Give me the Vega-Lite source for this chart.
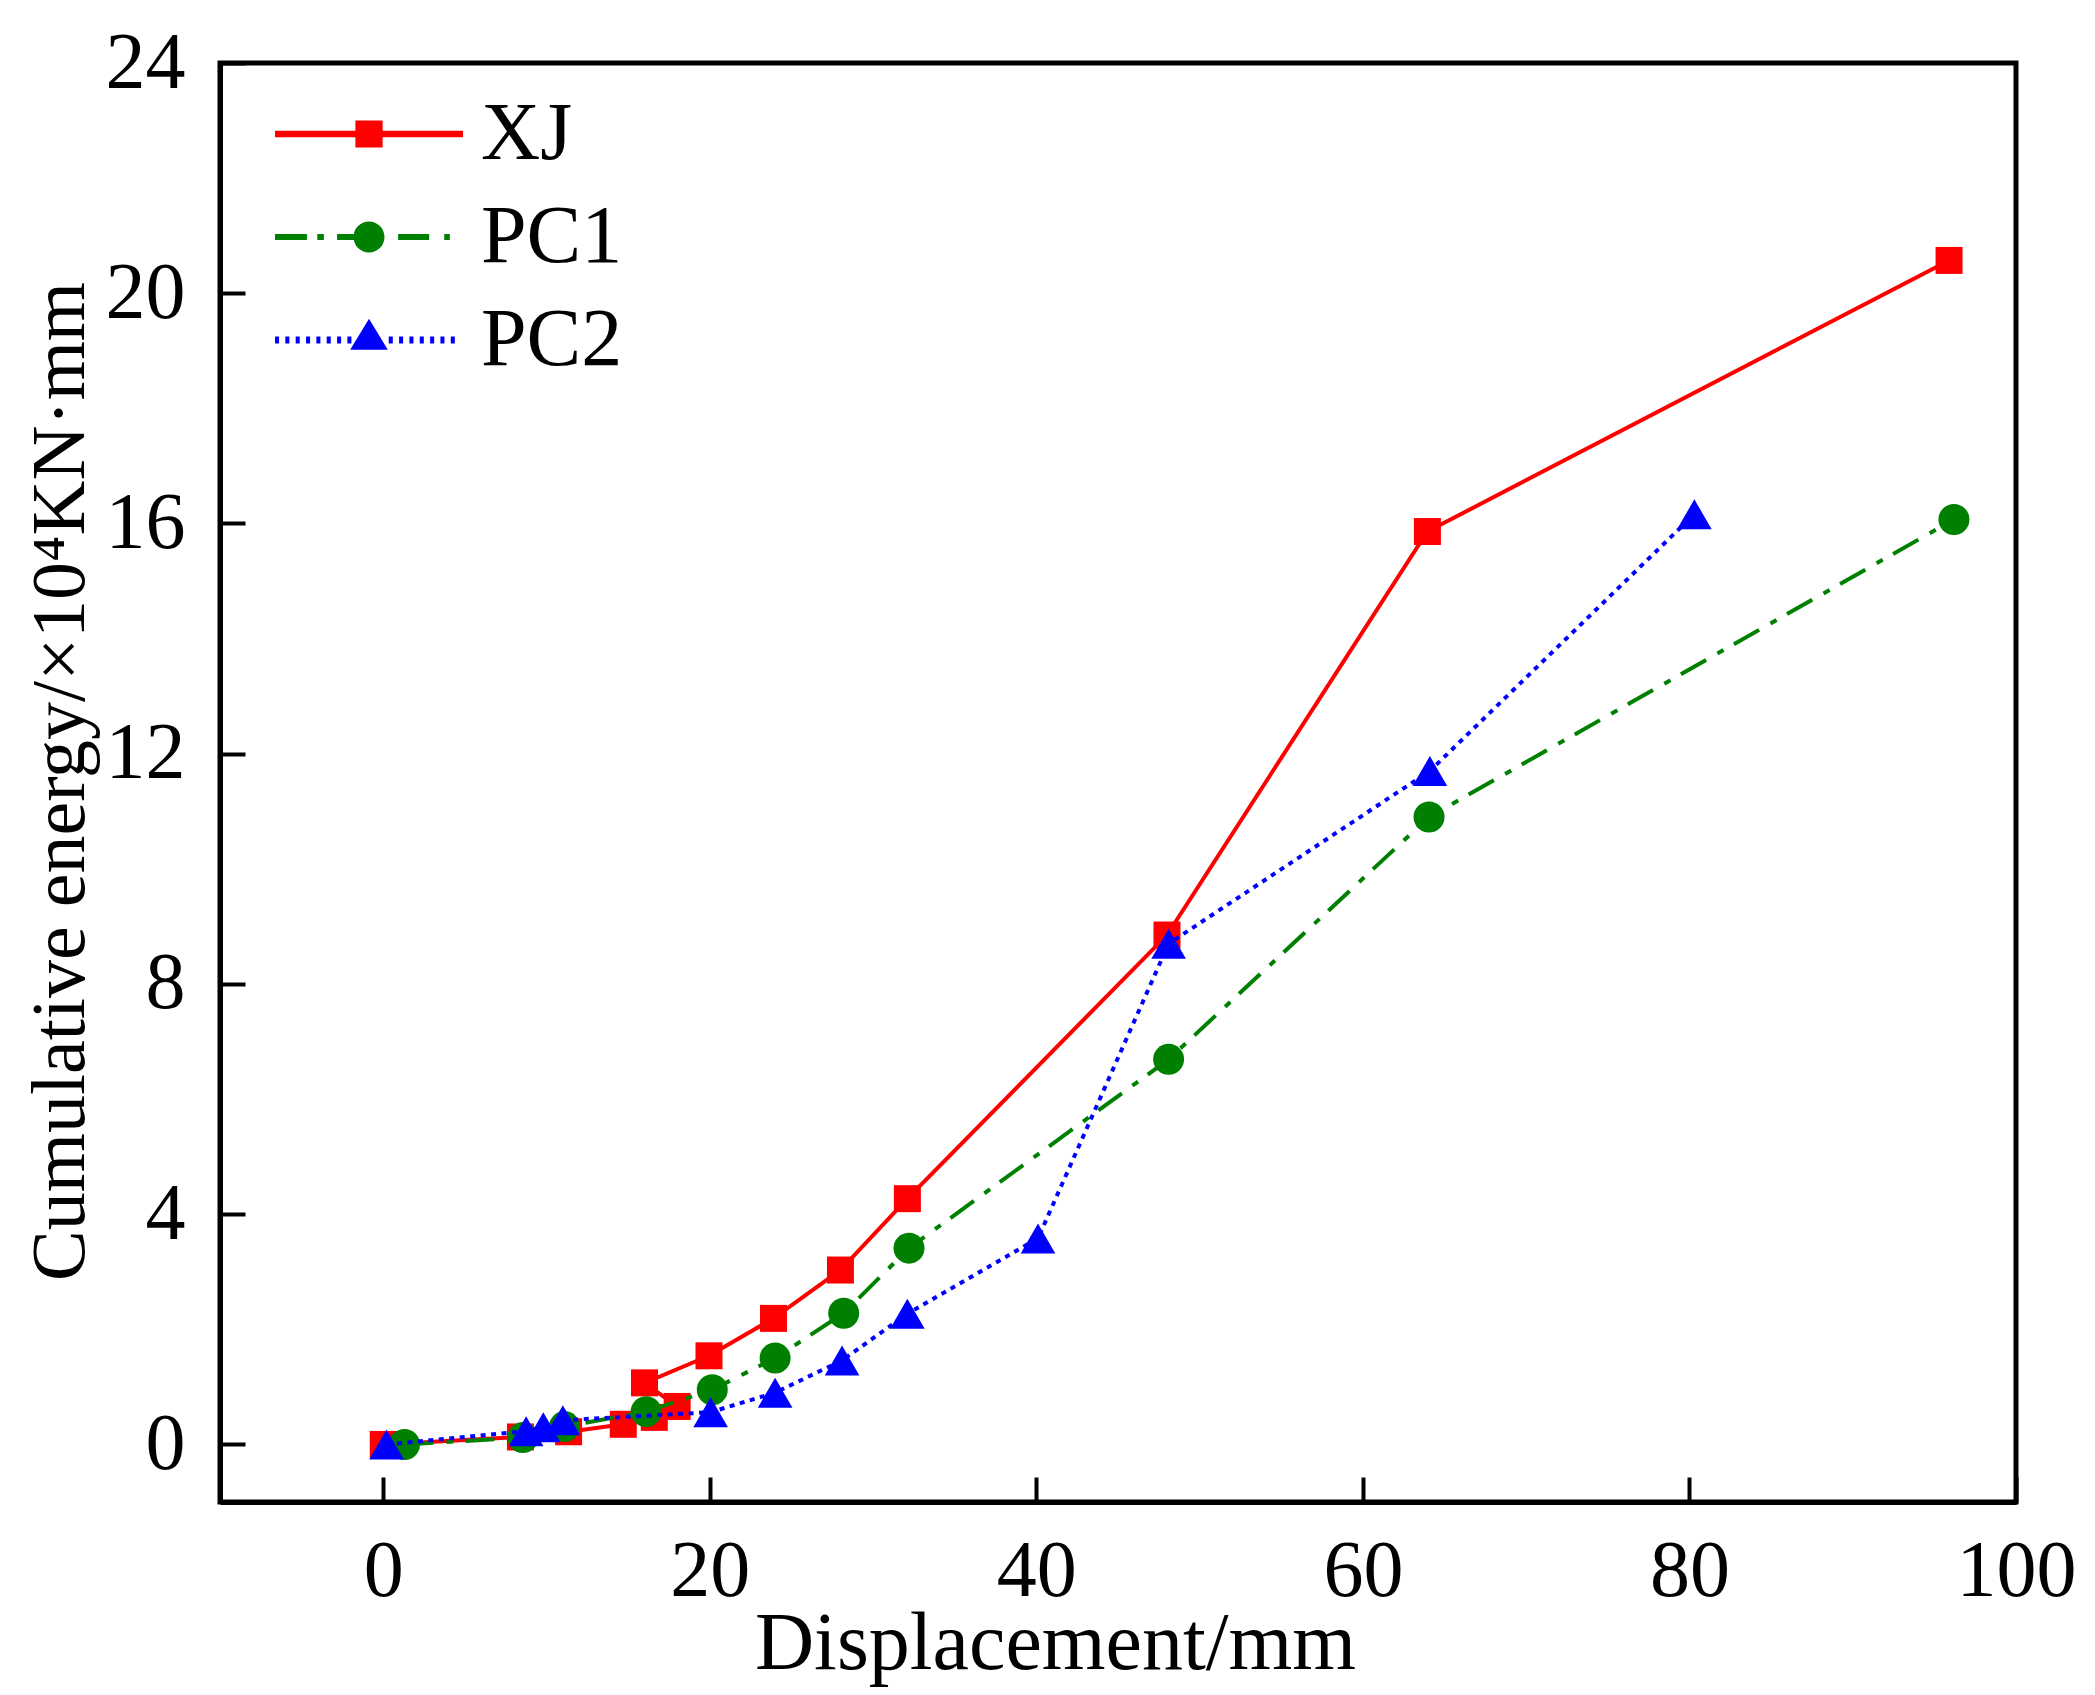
{
  "$schema": "https://vega.github.io/schema/vega-lite/v6.json",
  "autosize": {"type": "none"},
  "width": 1796,
  "height": 1439,
  "padding": {"left": 220, "top": 63, "right": 79, "bottom": 193},
  "background": "white",
  "data": {
    "values": [
      {"series": "XJ", "i": 1, "x": 0, "y": 0},
      {"series": "XJ", "i": 2, "x": 8.4, "y": 0.13},
      {"series": "XJ", "i": 3, "x": 11.35, "y": 0.22},
      {"series": "XJ", "i": 4, "x": 14.7, "y": 0.35},
      {"series": "XJ", "i": 5, "x": 16.6, "y": 0.47},
      {"series": "XJ", "i": 6, "x": 18.0, "y": 0.66},
      {"series": "XJ", "i": 7, "x": 16.0, "y": 1.07},
      {"series": "XJ", "i": 8, "x": 19.95, "y": 1.54},
      {"series": "XJ", "i": 9, "x": 23.9, "y": 2.19},
      {"series": "XJ", "i": 10, "x": 28.0, "y": 3.03},
      {"series": "XJ", "i": 11, "x": 32.1, "y": 4.27},
      {"series": "XJ", "i": 12, "x": 48.0, "y": 8.85},
      {"series": "XJ", "i": 13, "x": 63.95, "y": 15.86},
      {"series": "XJ", "i": 14, "x": 95.9, "y": 20.57},
      {"series": "PC1", "i": 1, "x": 1.3, "y": 0},
      {"series": "PC1", "i": 2, "x": 8.55, "y": 0.12},
      {"series": "PC1", "i": 3, "x": 11.1, "y": 0.31},
      {"series": "PC1", "i": 4, "x": 16.1, "y": 0.57},
      {"series": "PC1", "i": 5, "x": 20.15, "y": 0.95},
      {"series": "PC1", "i": 6, "x": 24.0, "y": 1.5},
      {"series": "PC1", "i": 7, "x": 28.2, "y": 2.28},
      {"series": "PC1", "i": 8, "x": 32.2, "y": 3.41},
      {"series": "PC1", "i": 9, "x": 48.1, "y": 6.69},
      {"series": "PC1", "i": 10, "x": 64.05, "y": 10.9},
      {"series": "PC1", "i": 11, "x": 96.2, "y": 16.07},
      {"series": "PC2", "i": 1, "x": 0.2, "y": 0},
      {"series": "PC2", "i": 2, "x": 8.75, "y": 0.23},
      {"series": "PC2", "i": 3, "x": 9.8, "y": 0.3},
      {"series": "PC2", "i": 4, "x": 11.0, "y": 0.42},
      {"series": "PC2", "i": 5, "x": 20.05, "y": 0.56},
      {"series": "PC2", "i": 6, "x": 24.0, "y": 0.9},
      {"series": "PC2", "i": 7, "x": 28.1, "y": 1.46},
      {"series": "PC2", "i": 8, "x": 32.1, "y": 2.27},
      {"series": "PC2", "i": 9, "x": 40.1, "y": 3.58},
      {"series": "PC2", "i": 10, "x": 48.1, "y": 8.7},
      {"series": "PC2", "i": 11, "x": 64.1, "y": 11.7},
      {"series": "PC2", "i": 12, "x": 80.3, "y": 16.16}
    ]
  },
  "encoding": {
    "x": {
      "field": "x",
      "type": "quantitative",
      "scale": {"domain": [-10, 100], "nice": false, "zero": false},
      "axis": {
        "values": [0, 20, 40, 60, 80, 100],
        "labelFlush": false,
        "title": "Displacement/mm",
        "titleFontSize": 82,
        "titleX": 835,
        "titleY": 166,
        "titleBaseline": "alphabetic",
        "labelPadding": 55
      }
    },
    "y": {
      "field": "y",
      "type": "quantitative",
      "scale": {"domain": [-1, 24], "nice": false, "zero": false},
      "axis": {
        "values": [0, 4, 8, 12, 16, 20, 24],
        "labelFlush": false,
        "title": "Cumulative energy/×10⁴KN·mm",
        "titleFontSize": 76,
        "titleX": -137,
        "titleY": 718,
        "titleAngle": -90,
        "titleBaseline": "alphabetic",
        "labelPadding": 60
      }
    },
    "color": {
      "field": "series",
      "type": "nominal",
      "scale": {"domain": ["XJ", "PC1", "PC2"], "range": ["#ff0000", "#008000", "#0000ff"]},
      "legend": {
        "title": null,
        "orient": "none",
        "legendX": 108,
        "legendY": 30,
        "padding": 0,
        "rowPadding": 21,
        "labelFont": "Liberation Serif",
        "labelFontSize": 82,
        "labelColor": "black",
        "labelOffset": 71,
        "symbolSize": 3600,
        "symbolStrokeWidth": 0,
        "encode": {
          "symbols": {
            "update": {
              "shape": {"signal": "datum.value === 'XJ' ? 'M-3.133,-0.11H3.133V0.11H-3.133Z M-0.454,-0.454H0.454V0.454H-0.454Z' : datum.value === 'PC1' ? 'M-3.133,-0.1H-2.068V0.1H-3.133Z M-1.723,-0.1H-1.504V0.1H-1.723Z M-1.065,-0.1H0V0.1H-1.065Z M0.971,-0.1H2.005V0.1H0.971Z M2.507,-0.1H2.695V0.1H2.507Z M0.517,0A0.517,0.517 0 1,1 -0.517,0A0.517,0.517 0 1,1 0.517,0Z' : 'M-3.133,-0.116h0.135v0.232h-0.135Z M-2.789,-0.116h0.135v0.232h-0.135Z M-2.444,-0.116h0.135v0.232h-0.135Z M-2.099,-0.116h0.135v0.232h-0.135Z M-1.755,-0.116h0.135v0.232h-0.135Z M-1.41,-0.116h0.135v0.232h-0.135Z M-1.065,-0.116h0.135v0.232h-0.135Z M-0.721,-0.116h0.135v0.232h-0.135Z M0.658,-0.116h0.135v0.232h-0.135Z M1.003,-0.116h0.135v0.232h-0.135Z M1.347,-0.116h0.135v0.232h-0.135Z M1.692,-0.116h0.135v0.232h-0.135Z M2.037,-0.116h0.135v0.232h-0.135Z M2.381,-0.116h0.135v0.232h-0.135Z M2.726,-0.116h0.135v0.232h-0.135Z M0,-0.705L0.627,0.329L-0.627,0.329Z'"},
              "fill": {"signal": "datum.value === 'XJ' ? '#ff0000' : datum.value === 'PC1' ? '#008000' : '#0000ff'"},
              "fillOpacity": {"value": 1},
              "opacity": {"value": 1},
              "strokeWidth": {"value": 0},
              "size": {"value": 3600}
            }
          }
        }
      }
    }
  },
  "layer": [
    {
      "transform": [{"filter": "datum.series === 'XJ'"}],
      "layer": [
        {
          "mark": {"type": "line", "strokeWidth": 4},
          "encoding": {"order": {"field": "i", "type": "quantitative"}}
        },
        {
          "mark": {"type": "point", "shape": "square", "filled": true, "opacity": 1, "size": 729}
        }
      ]
    },
    {
      "transform": [{"filter": "datum.series === 'PC1'"}],
      "layer": [
        {
          "mark": {"type": "line", "strokeWidth": 4, "strokeDash": [29, 13, 7, 12]},
          "encoding": {"order": {"field": "i", "type": "quantitative"}}
        },
        {
          "mark": {"type": "point", "shape": "circle", "filled": true, "opacity": 1, "size": 961}
        }
      ]
    },
    {
      "transform": [{"filter": "datum.series === 'PC2'"}],
      "layer": [
        {
          "mark": {"type": "line", "strokeWidth": 4, "strokeDash": [5, 5.5]},
          "encoding": {"order": {"field": "i", "type": "quantitative"}}
        },
        {
          "mark": {"type": "point", "shape": "triangle-up", "filled": true, "opacity": 1, "size": 1200}
        }
      ]
    }
  ],
  "config": {
    "view": {"stroke": "black", "strokeWidth": 5},
    "axis": {
      "grid": false,
      "domainColor": "black",
      "domainWidth": 5,
      "tickColor": "black",
      "tickWidth": 4,
      "tickSize": -25,
      "labelFont": "Liberation Serif",
      "labelFontSize": 80,
      "labelColor": "black",
      "titleFont": "Liberation Serif",
      "titleFontWeight": "normal",
      "titleColor": "black"
    }
  }
}
